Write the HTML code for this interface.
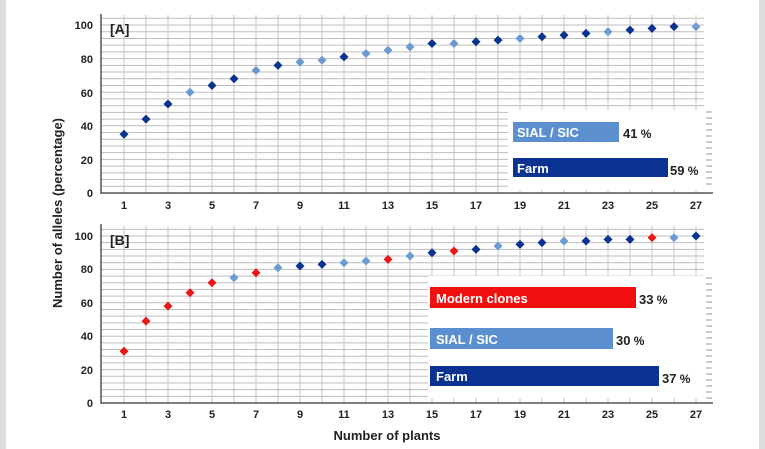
<!DOCTYPE html>
<html><head><meta charset="utf-8"><style>
html,body{margin:0;padding:0;width:765px;height:449px;overflow:hidden;background:#dcdcdc}
svg{display:block}
text{font-family:"Liberation Sans",Arial,sans-serif;font-weight:bold;fill:#222}
</style></head><body>
<svg id="s" width="765" height="449" xmlns="http://www.w3.org/2000/svg">
<rect x="6" y="0" width="753" height="449" fill="#fff"/>
<g id="grid"></g>
<g id="pts"></g>
<!-- Panel A legend -->
<rect x="508" y="110" width="200" height="80" fill="#fff"/>
<rect x="513" y="122" width="106" height="20" fill="#5b8fd0"/>
<text x="517" y="137" font-size="13" style="fill:#fff">SIAL / SIC</text>
<text x="623" y="138" font-size="13">41<tspan font-size="12"> %</tspan></text>
<rect x="513" y="158" width="155" height="19" fill="#0a3290"/>
<text x="517" y="173" font-size="13" style="fill:#fff">Farm</text>
<text x="670" y="175" font-size="13">59<tspan font-size="12"> %</tspan></text>
<!-- Panel B legend -->
<rect x="428" y="276" width="280" height="122" fill="#fff"/>
<rect x="430" y="287" width="206" height="21" fill="#f01010"/>
<text x="436" y="303" font-size="13" style="fill:#fff">Modern clones</text>
<text x="639" y="304" font-size="13">33<tspan font-size="12"> %</tspan></text>
<rect x="430" y="328" width="183" height="21" fill="#5b8fd0"/>
<text x="436" y="344" font-size="13" style="fill:#fff">SIAL / SIC</text>
<text x="616" y="345" font-size="13">30<tspan font-size="12"> %</tspan></text>
<rect x="430" y="366" width="229" height="20" fill="#0a3290"/>
<text x="436" y="381" font-size="13" style="fill:#fff">Farm</text>
<text x="662" y="383" font-size="13">37<tspan font-size="12"> %</tspan></text>
<g id="dots"></g>
<!-- axes -->
<g stroke="#555" stroke-width="1.5">
<line x1="101" y1="14" x2="101" y2="194"/><line x1="101" y1="193" x2="713" y2="193"/>
<line x1="101" y1="224" x2="101" y2="404"/><line x1="101" y1="403" x2="713" y2="403"/>
</g>
<text x="110" y="34" font-size="14">[A]</text>
<text x="110" y="245" font-size="14">[B]</text>
<g font-size="11" text-anchor="end">
<text x="93" y="29">100</text><text x="93" y="63">80</text><text x="93" y="97">60</text><text x="93" y="130">40</text><text x="93" y="164">20</text><text x="93" y="197">0</text>
<text x="93" y="240">100</text><text x="93" y="273">80</text><text x="93" y="307">60</text><text x="93" y="340">40</text><text x="93" y="374">20</text><text x="93" y="407">0</text>
</g>
<g font-size="11" text-anchor="middle">
<text x="124" y="209">1</text><text x="168" y="209">3</text><text x="212" y="209">5</text><text x="256" y="209">7</text><text x="300" y="209">9</text><text x="344" y="209">11</text><text x="388" y="209">13</text><text x="432" y="209">15</text><text x="476" y="209">17</text><text x="520" y="209">19</text><text x="564" y="209">21</text><text x="608" y="209">23</text><text x="652" y="209">25</text><text x="696" y="209">27</text>
<text x="124" y="418">1</text><text x="168" y="418">3</text><text x="212" y="418">5</text><text x="256" y="418">7</text><text x="300" y="418">9</text><text x="344" y="418">11</text><text x="388" y="418">13</text><text x="432" y="418">15</text><text x="476" y="418">17</text><text x="520" y="418">19</text><text x="564" y="418">21</text><text x="608" y="418">23</text><text x="652" y="418">25</text><text x="696" y="418">27</text>
</g>
<text x="387" y="440" font-size="13" text-anchor="middle">Number of plants</text>
<text transform="translate(62,213) rotate(-90)" font-size="13" text-anchor="middle">Number of alleles (percentage)</text>
</svg>
<script>
var NS="http://www.w3.org/2000/svg",g=document.getElementById('grid'),p=document.getElementById('pts'),dt=document.getElementById('dots');
function L(par,x1,y1,x2,y2,c){var l=document.createElementNS(NS,'line');l.setAttribute('x1',x1);l.setAttribute('y1',y1);l.setAttribute('x2',x2);l.setAttribute('y2',y2);l.setAttribute('stroke',c);l.setAttribute('stroke-width','1');par.appendChild(l);}
function panel(y0,y100,top,vals,cols,ly0,ly1){
 var h=y0-y100;
 for(var v=4;v<=108;v+=4){var y=y0-v/100*h;if(y<top)break;L(g,101,y,704,y,'#bdbdbd');}
 for(var i=1;i<=27;i++){var x=124+(i-1)*22;L(g,x,top,x,y0,'#c4c4c4');}
 for(var y=ly0;y<ly1;y+=6){L(dt,706,y,712,y,'#999');}
 for(var i=0;i<27;i++){var x=124+i*22,y=y0-vals[i]/100*h;var d=document.createElementNS(NS,'path');
  d.setAttribute('d','M'+x+' '+(y-4.5)+'L'+(x+4.5)+' '+y+'L'+x+' '+(y+4.5)+'L'+(x-4.5)+' '+y+'Z');
  d.setAttribute('fill',{d:'#0a3290',l:'#6b9bd2',r:'#e81818'}[cols[i]]);p.appendChild(d);}
}
panel(193,25,15,[35,44,53,60,64,68,73,76,78,79,81,83,85,87,89,89,90,91,92,93,94,95,96,97,98,99,99],
 "dddlddldlldllldlddldddlddd l".replace(' ','').split(''),112,190);
panel(403,236,226,[31,49,58,66,72,75,78,81,82,83,84,85,86,88,90,91,92,94,95,96,97,97,98,98,99,99,100],
 "rrrrrlrlddllrldrdlddlddd rld".replace(' ','').split(''),278,400);
</script>
</body></html>
